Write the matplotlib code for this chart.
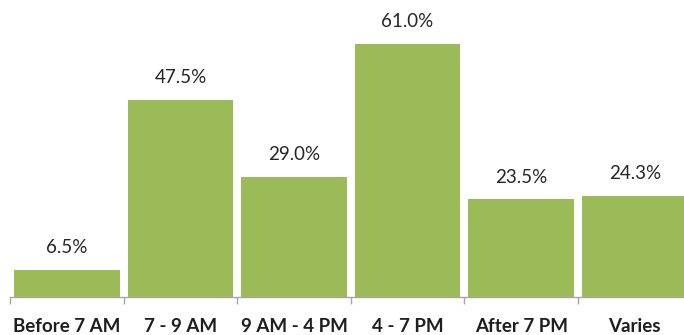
import matplotlib
matplotlib.use("Agg")
import matplotlib.pyplot as plt
import numpy as np

categories = ["Before 7 AM", "7 - 9 AM", "9 AM - 4 PM", "4 - 7 PM", "After 7 PM", "Varies"]
values = [6.5, 47.5, 29.0, 61.0, 23.5, 24.3]
value_labels = ["6.5%", "47.5%", "29.0%", "61.0%", "23.5%", "24.3%"]

plt.rcParams['font.family'] = ['Lato', 'DejaVu Sans']

fig = plt.figure(figsize=(6.84, 3.35), dpi=100)
ax = fig.add_axes([10/684, (335-297)/335, 681.6/684, 290.5/335])

x = np.arange(len(categories))
ax.bar(x, values, width=0.93, color="#9BBB59")
ax.set_xlim(-0.5, len(categories) - 0.5)
ax.set_ylim(0, 70)

for xi, v, lab in zip(x, values, value_labels):
    ax.annotate(lab, (xi, v), xytext=(0, 16), textcoords="offset points",
                ha="center", va="center", fontsize=13.5, color="#262626")

ax.set_xticks(x)
ax.set_xticklabels(categories, fontsize=13.5, fontweight="bold", color="#1f1f1f")
ax.tick_params(axis="x", length=0, pad=15)
ax.set_xticks(np.arange(len(categories) + 1) - 0.5, minor=True)
ax.tick_params(axis="x", which="minor", length=5, color="#a6a6a6", width=1)
ax.set_yticks([])
for s in ["top", "right", "left"]:
    ax.spines[s].set_visible(False)
ax.spines["bottom"].set_color("#a6a6a6")
ax.spines["bottom"].set_linewidth(1)

fig.savefig("out.png", dpi=100)
